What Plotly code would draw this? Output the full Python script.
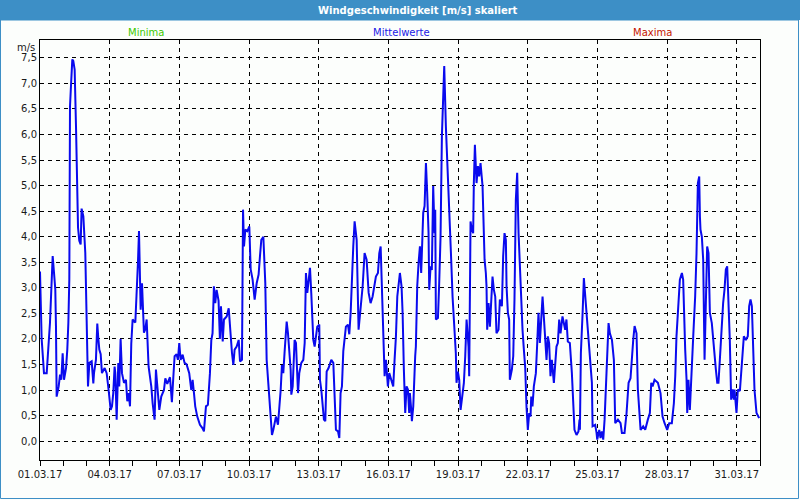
import pandas as pd
import plotly.graph_objects as go

# hours since 01.03.2017 00:00 and mean wind speed [m/s]
hours = [
    0.0, 1.7, 3.4, 4.1, 6.9, 7.6, 8.6, 10.3, 11.4, 12.4, 13.1, 14.5, 15.8, 16.5, 17.2, 19.3, 20.7, 22.0, 23.4, 24.8,
    26.9, 28.2, 29.3, 30.3, 31.0, 32.0, 33.4, 34.4, 35.8, 37.2, 38.2, 39.3, 40.6, 42.0, 43.0, 44.8, 46.8, 48.2, 49.6, 51.0,
    53.4, 55.1, 55.8, 57.8, 59.2, 60.3, 61.3, 62.7, 64.0, 66.8, 68.9, 70.9, 72.3, 73.0, 74.4, 75.7, 77.1, 77.8, 79.2, 80.9,
    81.9, 83.3, 84.7, 86.8, 88.8, 90.2, 91.6, 93.0, 94.3, 95.7, 98.5, 99.8, 101.2, 102.3, 103.3, 104.0, 105.4, 106.7, 107.4, 108.8,
    110.2, 112.2, 115.0, 116.4, 118.4, 119.8, 121.2, 123.3, 125.3, 128.1, 129.5, 131.5, 134.3, 136.3, 137.7, 139.1, 141.2, 142.5, 143.9, 145.3,
    147.4, 149.4, 151.5, 154.2, 156.3, 157.7, 159.1, 160.4, 162.5, 165.3, 168.0, 169.4, 171.5, 173.5, 175.6, 177.0, 178.3, 179.7, 181.1, 182.5,
    184.5, 185.9,
    187.0, 188.8, 190.1, 192.9, 195.0, 197.0, 198.4, 199.8, 201.1, 203.2, 205.3, 206.7, 208.7, 209.8, 210.8, 212.2, 214.2, 216.3, 217.7, 219.7,
    221.8, 223.9, 225.9, 227.3, 228.7, 230.8, 232.8, 234.2, 235.6, 237.0, 238.3, 239.7, 241.1, 242.5, 243.8, 245.9, 247.3, 248.7, 250.0, 251.4,
    252.8, 254.9, 256.2, 257.6, 259.0, 259.7, 261.1, 263.1, 264.5, 266.6, 267.9, 270.0, 272.1, 273.5, 274.1, 274.8, 276.2, 277.6, 279.0, 280.3,
    281.0, 282.4, 283.8, 285.2, 286.5, 288.6, 289.3, 290.7, 293.4, 294.8, 296.2, 298.2, 301.0, 303.1, 304.4, 305.8, 307.9, 309.3, 310.6, 312.0,
    313.4, 314.8, 316.1, 318.2, 319.6, 321.0, 322.3, 323.7, 325.1, 327.2, 329.2, 331.3, 333.4, 335.4, 337.5, 339.6, 341.6, 343.7, 345.8, 347.1,
    349.2, 350.6, 352.0, 353.3, 354.7, 356.1, 357.5, 359.5, 360.9, 363.0, 365.0, 366.4, 367.8, 369.2, 371.9,
    373.6, 374.7, 376.0, 377.4, 378.8, 380.2, 381.5, 382.2, 383.6, 384.3, 385.7, 386.4, 387.7, 388.4, 389.8, 391.2, 392.6, 393.9, 394.6, 396.0,
    397.4, 398.8, 400.1, 401.5, 402.2, 403.6, 404.9, 406.3, 407.7, 408.4, 409.1, 411.2, 412.5, 413.9, 415.3, 416.0, 417.7, 419.4, 420.8, 422.2,
    423.5, 424.9, 426.3, 428.4, 429.7, 430.4, 431.8, 433.2, 434.6, 435.9, 438.0, 439.4, 440.8, 442.1, 442.8, 443.5, 444.9, 446.3, 447.6, 448.3,
    449.4, 451.1, 452.5, 453.8, 455.2, 457.3, 458.0, 459.4, 460.7, 461.4, 462.1, 463.5, 464.9, 467.6, 469.0, 470.4, 471.7, 473.8, 475.2, 477.3,
    478.6, 480.0, 481.4, 482.1, 483.5, 484.8, 485.5, 487.6, 489.0, 490.3, 491.7, 493.1, 494.5, 495.8, 497.2, 498.6, 500.0, 501.4, 502.7, 504.1,
    505.5, 506.9, 507.6, 508.9, 510.3, 512.4, 513.8, 515.1, 516.5, 517.9, 519.3, 520.6, 522.0, 523.4, 524.8, 526.1, 527.5, 528.9, 531.0, 532.3,
    533.7, 535.1, 536.5, 537.9, 539.9, 542.7, 544.0, 545.4, 547.5, 549.6, 550.9, 552.3, 554.4, 556.4, 557.5,
    557.9, 558.9, 560.0, 560.7, 562.0, 564.1, 564.8, 566.2, 567.5, 570.3, 571.0, 573.7, 575.1, 575.8, 577.9, 579.2, 580.6, 582.0, 583.4, 584.8,
    586.1, 587.5, 588.9, 591.0, 593.0, 594.4, 597.2, 599.9, 601.3, 604.0, 606.1, 608.2, 610.2, 611.6, 613.0, 614.4, 616.4, 617.8, 620.6, 623.3,
    625.4, 628.1, 630.2, 631.6, 633.0, 635.0, 638.5, 641.2, 643.3, 645.4, 648.1, 650.2, 652.9, 655.0, 656.4, 657.7, 659.8, 661.2, 663.3, 664.6,
    666.7, 668.1, 668.8, 670.1, 671.5, 672.9, 675.0, 677.0, 678.4, 679.8, 681.2, 681.9, 682.5, 683.9, 685.3, 686.7, 688.0, 689.4, 690.8, 692.2,
    694.2, 695.6, 697.0, 698.4, 699.8, 701.1, 702.5, 703.9, 705.9, 707.3, 708.7, 710.1, 711.5, 712.8, 714.2, 715.6, 717.0, 717.7, 719.7, 721.1,
    723.2, 724.5, 725.9, 727.3, 729.4, 731.4, 732.8, 734.2, 735.6, 736.3, 738.3, 740.4, 743.1,
]
speed = [
    3.32, 2.00, 1.53, 1.33, 1.33, 1.66, 1.82, 2.31, 2.74, 3.19, 3.62, 3.29, 2.97, 2.25, 0.87, 1.07, 1.30, 1.20, 1.72, 1.20,
    1.43, 1.79, 2.31, 3.17, 6.55, 6.95, 7.47, 7.44, 7.27, 6.16, 5.20, 4.18, 3.92, 3.85, 4.55, 4.40, 3.68, 2.09, 1.07, 1.53,
    1.56, 1.13, 1.33, 1.59, 2.30, 2.00, 1.79, 1.70, 1.33, 1.43, 1.33, 1.00, 0.68, 0.61, 0.68, 0.94, 1.46, 1.33, 0.42, 1.53,
    1.07, 2.00, 1.33, 1.14, 1.20, 0.78, 0.94, 0.68, 1.90, 2.38, 2.32, 2.77, 3.49, 4.11, 3.42, 2.57, 3.09, 2.44, 2.12, 2.19,
    2.38, 1.46, 1.07, 0.74, 0.42, 1.40, 1.07, 0.61, 0.87, 1.00, 1.23, 1.12, 1.25, 0.76, 1.23, 1.66, 1.70, 1.59, 1.92, 1.59,
    1.69, 1.53, 1.50, 1.33, 1.00, 1.20, 0.94, 0.68, 0.48, 0.32, 0.25, 0.19, 0.68, 0.71, 1.33, 1.97, 2.11, 3.03, 2.70, 2.96,
    2.75, 2.00,
    2.64, 1.95, 2.38, 2.44, 2.60, 1.98, 1.72, 1.49, 1.79, 1.85, 1.98, 1.56, 1.59, 4.53, 3.81, 4.14, 4.11, 4.20, 3.36, 3.16,
    2.77, 3.09, 3.26, 3.62, 3.94, 4.00, 3.09, 1.59, 1.20, 0.81, 0.42, 0.12, 0.22, 0.35, 0.48, 0.32, 0.65, 1.00, 1.49, 1.33,
    1.76, 2.34, 2.12, 1.72, 1.40, 0.91, 1.07, 1.98, 1.92, 0.94, 1.33, 1.53, 1.59, 1.92, 2.64, 3.29, 2.90, 3.16, 3.39, 2.90,
    2.44, 1.98, 1.85, 2.11, 2.24, 2.28, 1.20, 1.00, 0.42, 0.39, 1.36, 1.43, 1.59, 1.53, 0.94, 0.22, 0.19, 0.06, 0.94, 1.07,
    1.76, 2.05, 2.24, 2.28, 2.09, 2.51, 3.36, 3.81, 4.30, 3.94, 2.18, 2.57, 3.03, 3.68, 3.55, 2.90, 2.70, 2.83, 3.03, 3.22,
    3.29, 3.68, 3.81, 2.96, 2.31, 1.27, 1.59, 1.07, 1.33, 1.20, 1.07, 1.59, 2.05, 2.83, 3.29,
    3.03, 2.51, 1.40, 0.55, 1.07, 1.01, 0.55, 0.94, 0.61, 0.39, 0.68, 1.14, 1.66, 1.85, 3.03, 3.49, 3.81, 3.29, 3.68, 4.47,
    4.60, 5.44, 4.86, 4.07, 2.96, 3.42, 3.35, 4.99, 4.07, 4.53, 2.38, 2.41, 3.09, 4.00, 5.97, 6.49, 7.34, 6.16, 5.57, 4.92,
    4.14, 3.55, 2.83, 2.05, 1.72, 1.14, 1.36, 1.20, 0.61, 0.81, 1.14, 1.66, 2.38, 2.05, 1.85, 1.27, 4.30, 4.14, 4.07, 5.05,
    5.80, 5.05, 5.38, 5.18, 5.44, 4.99, 4.47, 3.55, 3.29, 3.03, 2.18, 2.70, 2.24, 3.22, 2.96, 2.83, 2.11, 2.18, 2.77, 2.64,
    3.62, 4.07, 3.94, 3.03, 2.51, 2.38, 1.20, 1.40, 1.66, 2.77, 4.73, 5.25, 4.07, 3.36, 2.64, 2.18, 1.79, 1.43, 0.68, 0.22,
    0.55, 0.48, 0.87, 0.68, 1.07, 1.33, 1.92, 2.51, 1.92, 2.44, 2.83, 2.44, 1.98, 1.59, 2.05, 1.92, 1.27, 1.59, 1.14, 1.59,
    1.85, 1.92, 2.38, 2.11, 2.44, 2.18, 2.38, 1.95, 1.92, 1.33, 0.87, 0.22, 0.12, 0.19, 0.42,
    0.22, 1.72, 2.11, 2.51, 3.19, 2.64, 2.51, 2.18, 1.92, 1.14, 0.29, 0.32, 0.16, 0.03, 0.22, 0.06, 0.19, 0.03, 0.42, 1.07,
    1.53, 2.31, 2.11, 1.98, 1.59, 0.35, 0.42, 0.35, 0.16, 0.16, 0.55, 1.14, 1.23, 1.72, 1.98, 2.25, 2.11, 1.01, 0.22, 0.29,
    0.22, 0.42, 0.55, 1.14, 1.07, 1.20, 1.14, 0.94, 0.48, 0.35, 0.22, 0.35, 0.35, 0.74, 1.27, 2.05, 2.64, 3.16, 3.29, 3.16,
    1.79, 1.20, 0.55, 1.20, 0.61, 1.27, 2.05, 2.83, 3.68, 5.05, 5.18, 4.40, 4.14, 4.00, 3.55, 1.59, 2.64, 3.81, 3.68, 2.51,
    2.31, 1.98, 1.59, 1.40, 1.14, 1.14, 1.59, 2.11, 2.70, 2.96, 3.36, 3.42, 2.83, 1.98, 0.81, 1.01, 0.81, 1.01, 0.55, 1.01,
    0.98, 1.27, 1.66, 2.05, 1.98, 2.05, 2.64, 2.77, 2.64, 2.31, 1.01, 0.55, 0.45,
]

times = pd.Timestamp("2017-03-01") + pd.to_timedelta(hours, unit="h")

FONT = "DejaVu Sans"
W, H = 800, 500
L, R, T, B = 40, 40, 40, 40


def px(x, y):
    """figure pixel -> paper coords"""
    return (x - L) / (W - L - R), (H - B - y) / (H - T - B)


fig = go.Figure()
fig.add_trace(go.Scatter(
    x=times, y=speed,
    mode="lines",
    line=dict(color="#0A0AEE", width=2),
    showlegend=False,
    hovertemplate="%{x|%d.%m.%y %H:%M}<br>%{y:.1f} m/s<extra></extra>",
))

# title bar and frame
x0, y0 = px(0, 0)
x1, y1 = px(800, 20)
fig.add_shape(type="rect", xref="paper", yref="paper", x0=x0, x1=x1, y0=y0, y1=y1,
              fillcolor="#3D8FC6", line=dict(width=0), layer="below")
x0, y0 = px(0.5, 20)
x1, y1 = px(798.5, 498.5)
fig.add_shape(type="rect", xref="paper", yref="paper", x0=x0, x1=x1, y0=y0, y1=y1,
              fillcolor="rgba(0,0,0,0)", line=dict(color="#3D8FC6", width=1), layer="below")

def label(text, x, y, color, size=10, bold=False, xanchor="center"):
    ax, ay = px(x, y)
    fig.add_annotation(
        text=f"<b>{text}</b>" if bold else text,
        xref="paper", yref="paper", x=ax, y=ay,
        xanchor=xanchor, yanchor="middle", showarrow=False,
        font=dict(family=FONT, size=size, color=color),
    )

label("Windgeschwindigkeit [m/s] skaliert", 418, 10, "white", size=10, bold=True)
label("Minima", 146, 32, "#3CC800")
label("Mittelwerte", 401, 32, "#1A1AE6")
label("Maxima", 652, 32, "#C41400")
label("m/s", 37, 47, "#1A1A1A", xanchor="right")

fig.update_layout(
    width=W, height=H,
    margin=dict(l=L, r=R, t=T, b=B),
    paper_bgcolor="#FCFEFC",
    plot_bgcolor="#FCFEFC",
    separators=",.",
    font=dict(family=FONT, size=10, color="#1A1A1A"),
    xaxis=dict(
        range=["2017-03-01", "2017-04-01"],
        tick0="2017-03-01", dtick=3 * 86400000,
        tickformat="%d.%m.%y",
        showgrid=True, gridcolor="black", griddash="4px,4px", gridwidth=1,
        showline=True, linecolor="black", linewidth=1, mirror=True,
        ticks="outside", ticklen=5, tickcolor="black",
        minor=dict(dtick=86400000, ticks="outside", ticklen=5, tickcolor="black", showgrid=False),
        zeroline=False,
    ),
    yaxis=dict(
        range=[-0.37, 7.85],
        tick0=0, dtick=0.5, tickformat=".1f",
        showgrid=True, gridcolor="black", griddash="4px,4px", gridwidth=1,
        showline=True, linecolor="black", linewidth=1, mirror=True,
        ticks="", zeroline=False,
    ),
)

# the page's default body margin would shift the 800x500 figure
fig.write_html("out.html", config={"displayModeBar": False},
               post_script="document.body.style.margin='0';")
